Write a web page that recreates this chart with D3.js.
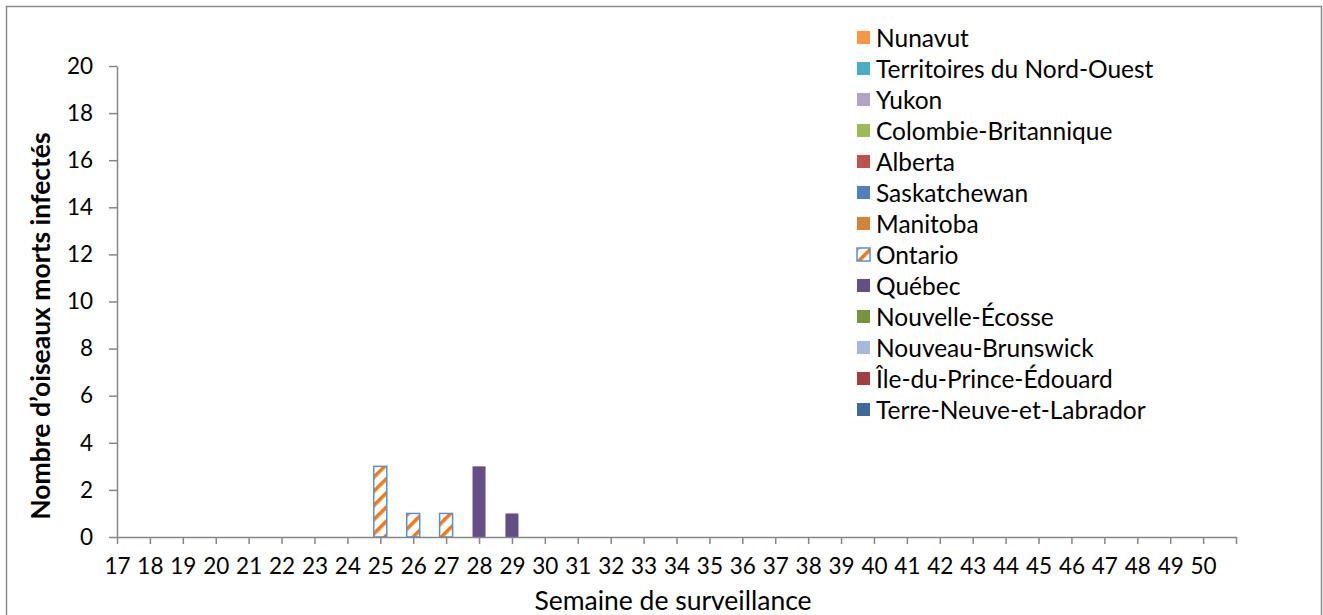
<!DOCTYPE html>
<html>
<head>
<meta charset="utf-8">
<script src="https://cdn.jsdelivr.net/npm/d3@7"></script>
<style>
  html, body { margin: 0; padding: 0; background: #fff; }
  svg { display: block; }
  text { font-family: Lato, "Open Sans", sans-serif; fill: #000; }
</style>
</head>
<body>
<svg id="chart" width="1323" height="615"></svg>
<script>
// ---- data ----
const weeks = [17,18,19,20,21,22,23,24,25,26,27,28,29,30,31,32,33,34,35,36,37,38,39,40,41,42,43,44,45,46,47,48,49,50];
const yTicks = [0,2,4,6,8,10,12,14,16,18,20];
const provinces = ["Nunavut","Territoires du Nord-Ouest","Yukon","Colombie-Britannique","Alberta","Saskatchewan","Manitoba","Ontario","Québec","Nouvelle-Écosse","Nouveau-Brunswick","Île-du-Prince-Édouard","Terre-Neuve-et-Labrador"];
const provinceColors = ["#F79646","#4BACC6","#B3A2C7","#9BBB59","#C0504D","#4F81BD","#D58339","pattern","#654D87","#77933C","#A7B9DA","#A0403E","#3E6A9E"];
// infected dead birds per week (weeks 17..50)
const ontario = [0,0,0,0,0,0,0,0,3,1,1,0,0,0,0,0,0,0,0,0,0,0,0,0,0,0,0,0,0,0,0,0,0,0];
const quebec  = [0,0,0,0,0,0,0,0,0,0,0,3,1,0,0,0,0,0,0,0,0,0,0,0,0,0,0,0,0,0,0,0,0,0];
const zeros   = [0,0,0,0,0,0,0,0,0,0,0,0,0,0,0,0,0,0,0,0,0,0,0,0,0,0,0,0,0,0,0,0,0,0];
const seriesValues = {
  "Nunavut": zeros, "Territoires du Nord-Ouest": zeros, "Yukon": zeros,
  "Colombie-Britannique": zeros, "Alberta": zeros, "Saskatchewan": zeros,
  "Manitoba": zeros, "Ontario": ontario, "Québec": quebec,
  "Nouvelle-Écosse": zeros, "Nouveau-Brunswick": zeros,
  "Île-du-Prince-Édouard": zeros, "Terre-Neuve-et-Labrador": zeros
};

// ---- layout ----
const svg = d3.select("#chart");
const mLeft = 117, mRight = 1236, mTop = 66, mBottom = 537;
const gray = "#868686";

const defs = svg.append("defs");
const pat = defs.append("pattern").attr("id","stripes")
  .attr("patternUnits","userSpaceOnUse").attr("width",10).attr("height",10)
  .attr("patternTransform","rotate(45)");
pat.append("rect").attr("width",10).attr("height",10).attr("fill","#fff");
pat.append("rect").attr("width",3.6).attr("height",10).attr("fill","#EE7A1B");
const ontarioStroke = "#5A8FD3";
const fillOf = (i) => provinceColors[i] === "pattern" ? "url(#stripes)" : provinceColors[i];

// outer border
svg.append("rect").attr("x",6.5).attr("y",6.5).attr("width",1315).attr("height",640)
  .attr("fill","none").attr("stroke","#8c8c8c").attr("stroke-width",1.5);

const x = d3.scaleLinear().domain([17, 51]).range([mLeft, mRight]);
const y = d3.scaleLinear().domain([0, 20]).range([mBottom, mTop]);

// stacked data (bottom series = last in legend)
const table = weeks.map((w, i) => {
  const row = { week: w };
  provinces.forEach(p => row[p] = seriesValues[p][i]);
  return row;
});
const stackOrder = provinces.slice().reverse();
const stacked = d3.stack().keys(stackOrder)(table);

const barW = 13;
stacked.forEach(layer => {
  const pi = provinces.indexOf(layer.key);
  const isPat = provinceColors[pi] === "pattern";
  svg.append("g").selectAll("rect")
    .data(layer.filter(d => d[1] - d[0] > 0))
    .join("rect")
    .attr("x", d => x(d.data.week) - barW/2)
    .attr("y", d => y(d[1]))
    .attr("width", barW)
    .attr("height", d => y(d[0]) - y(d[1]))
    .attr("fill", fillOf(pi))
    .attr("stroke", isPat ? ontarioStroke : "none")
    .attr("stroke-width", isPat ? 1.5 : 0);
});

// y axis
const yAxis = svg.append("g").attr("transform", `translate(${mLeft},0)`)
  .call(d3.axisLeft(y).tickValues(yTicks).tickSize(8).tickSizeOuter(0).tickPadding(16));
yAxis.selectAll("path, line").attr("stroke", gray).attr("stroke-width", 1.5);
yAxis.selectAll("text").attr("font-size", 22.5).attr("font-family","Lato, sans-serif").attr("fill","#000");

// x axis
const xTickVals = weeks.concat([51]);
const xAxis = svg.append("g").attr("transform", `translate(0,${mBottom})`)
  .call(d3.axisBottom(x).tickValues(xTickVals).tickSize(7).tickSizeOuter(0).tickPadding(14)
    .tickFormat(d => weeks.includes(d) ? String(d) : ""));
xAxis.selectAll("path, line").attr("stroke", gray).attr("stroke-width", 1.5);
xAxis.selectAll("text").attr("font-size", 22.5).attr("font-family","Lato, sans-serif").attr("fill","#000");

// axis titles
svg.append("text").attr("x", 673).attr("y", 610).attr("text-anchor","middle")
  .attr("font-size", 26.5).text("Semaine de surveillance");
svg.append("text").attr("transform","translate(50,326) rotate(-90)").attr("text-anchor","middle")
  .attr("font-size", 26.5).attr("font-weight","bold").text("Nombre d’oiseaux morts infectés");

// legend
const lg = svg.append("g");
provinces.forEach((p, i) => {
  const cy = 38 + i * 31;
  const isPat = provinceColors[i] === "pattern";
  lg.append("rect").attr("x", 857).attr("y", cy - 7).attr("width", 13).attr("height", 13)
    .attr("fill", fillOf(i))
    .attr("stroke", isPat ? ontarioStroke : "none").attr("stroke-width", isPat ? 1.5 : 0);
  lg.append("text").attr("x", 876).attr("y", cy).attr("dy","0.36em")
    .attr("font-size", 24.5).text(p);
});
</script>
</body>
</html>
